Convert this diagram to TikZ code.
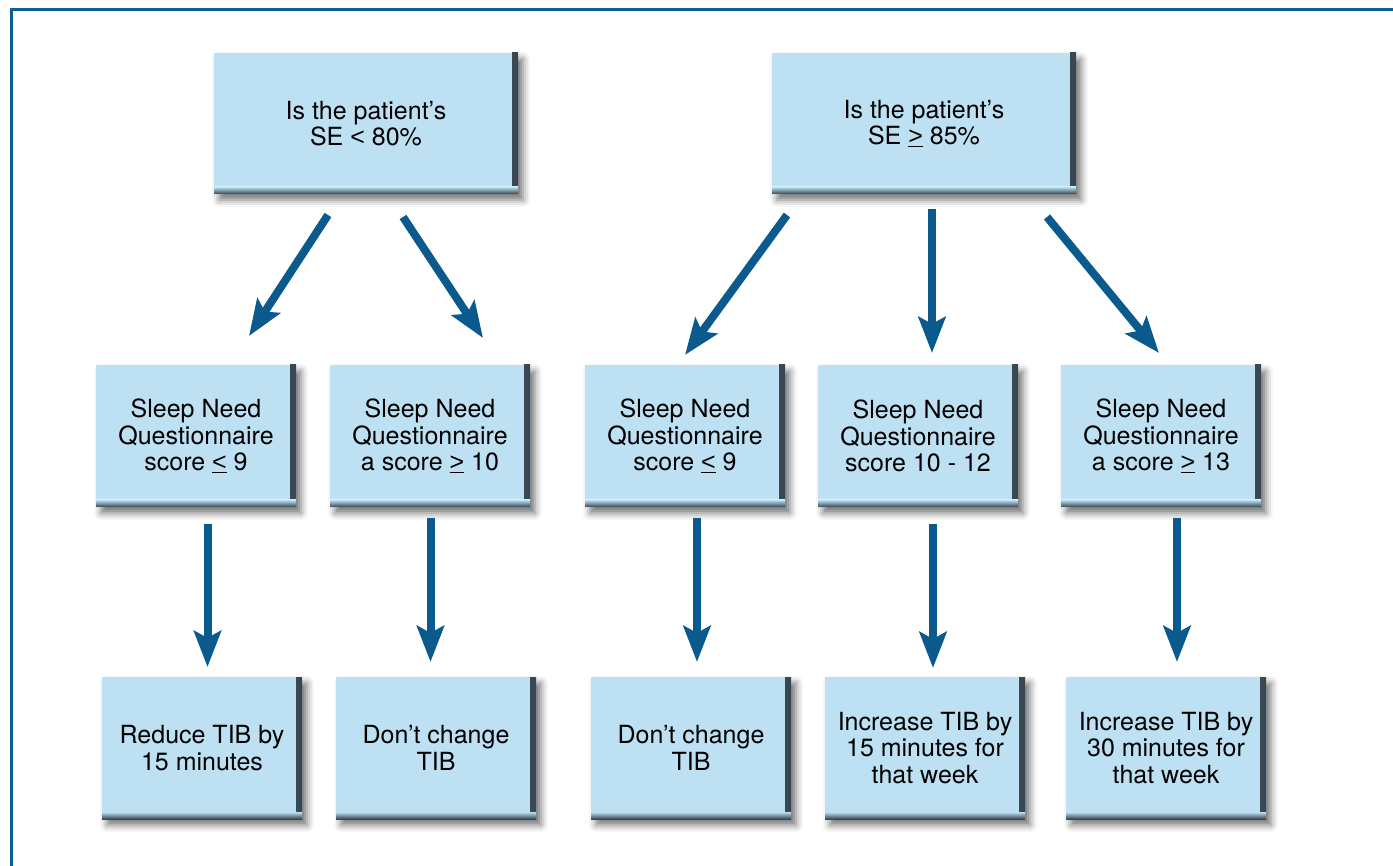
\documentclass[tikz,border=0pt]{standalone}
\usepackage{fontspec}
\setmainfont{TeX Gyre Heros}
\newfontfamily\relfont{Liberation Sans}
\usetikzlibrary{arrows.meta,shadows.blur}

\definecolor{boxblue}{HTML}{BDE1F3}
\definecolor{beveldark}{HTML}{36454F}
\definecolor{arrowblue}{HTML}{0B5A8E}
\definecolor{frameblue}{HTML}{0E5E93}

% underlined relation signs
\newcommand\uge{\underline{{\relfont >}}}
\newcommand\ule{\underline{{\relfont <}}}

\tikzset{
  flowbox/.style={
    rectangle, inner sep=0pt, fill=boxblue, align=center,
    font=\fontsize{25}{26.5}\selectfont,
    execute at begin node={\rule{0pt}{24pt}},
    blur shadow={shadow xshift=5pt, shadow yshift=-6pt,
                 shadow blur radius=7pt, shadow opacity=55},
    path picture={
      \shade[left color=boxblue, right color=beveldark]
        ([xshift=-6pt]path picture bounding box.north east)
        rectangle (path picture bounding box.south east);
      \shade[top color=boxblue, bottom color=beveldark]
        (path picture bounding box.south west)
        rectangle ([yshift=7pt]path picture bounding box.south east);
    }
  },
  questionbox/.style={flowbox, minimum width=304pt, minimum height=141pt},
  stepbox/.style={flowbox, minimum width=200pt, minimum height=142pt},
  flowarrow/.style={draw=arrowblue, line width=8pt,
    -{Stealth[length=36pt, width=27pt, inset=7pt]}}
}

\begin{document}
\begin{tikzpicture}[x=1pt, y=-1pt]
  \useasboundingbox (0,0) rectangle (1393,866);

  % outer frame (top and left edges)
  \draw[frameblue, line width=3pt] (11.5,866) -- (11.5,9.5) -- (1393,9.5);

  % questions
  \node[questionbox] (t1) at (366,123.5) {Is the patient’s\\SE {\relfont <} 80\%};
  \node[questionbox] (t2) at (924,123.5) {Is the patient’s\\SE \uge{} 85\%};

  % questionnaire scores
  \node[stepbox] (m1) at (196,436)  {Sleep Need\\Questionnaire\\score \ule{} 9};
  \node[stepbox] (m2) at (430,436)  {Sleep Need\\Questionnaire\\a score \uge{} 10};
  \node[stepbox] (m3) at (685,436)  {Sleep Need\\Questionnaire\\score \ule{} 9};
  \node[stepbox] (m4) at (918,436)  {Sleep Need\\Questionnaire\\score 10 - 12};
  \node[stepbox] (m5) at (1161,436) {Sleep Need\\Questionnaire\\a score \uge{} 13};

  % actions
  \node[stepbox] (b1) at (202,748)  {Reduce TIB by\\15 minutes};
  \node[stepbox] (b2) at (436,748)  {Don’t change\\TIB};
  \node[stepbox] (b3) at (691,748)  {Don’t change\\TIB};
  \node[stepbox] (b4) at (925,748)  {Increase TIB by\\15 minutes for\\that week};
  \node[stepbox] (b5) at (1166,748) {Increase TIB by\\30 minutes for\\that week};

  % arrow end points
  \coordinate (a1s) at (328,215);    \coordinate (a1e) at (249,336);
  \coordinate (a2s) at (403,217);    \coordinate (a2e) at (483,338);
  \coordinate (a3s) at (787,215);    \coordinate (a3e) at (685,355);
  \coordinate (a4s) at (932,209);    \coordinate (a4e) at (932,353);
  \coordinate (a5s) at (1047,217);   \coordinate (a5e) at (1159,353);
  \coordinate (v1s) at (207.5,524);  \coordinate (v1e) at (207.5,667);
  \coordinate (v2s) at (430.5,518);  \coordinate (v2e) at (430.5,662);
  \coordinate (v3s) at (697,518);    \coordinate (v3e) at (697,662);
  \coordinate (v4s) at (933,524);    \coordinate (v4e) at (933,668);
  \coordinate (v5s) at (1177,518);   \coordinate (v5e) at (1177,662);

  \draw[flowarrow] (a1s) -- (a1e);
  \draw[flowarrow] (a2s) -- (a2e);
  \draw[flowarrow] (a3s) -- (a3e);
  \draw[flowarrow] (a4s) -- (a4e);
  \draw[flowarrow] (a5s) -- (a5e);
  \draw[flowarrow] (v1s) -- (v1e);
  \draw[flowarrow] (v2s) -- (v2e);
  \draw[flowarrow] (v3s) -- (v3e);
  \draw[flowarrow] (v4s) -- (v4e);
  \draw[flowarrow] (v5s) -- (v5e);
\end{tikzpicture}
\end{document}
